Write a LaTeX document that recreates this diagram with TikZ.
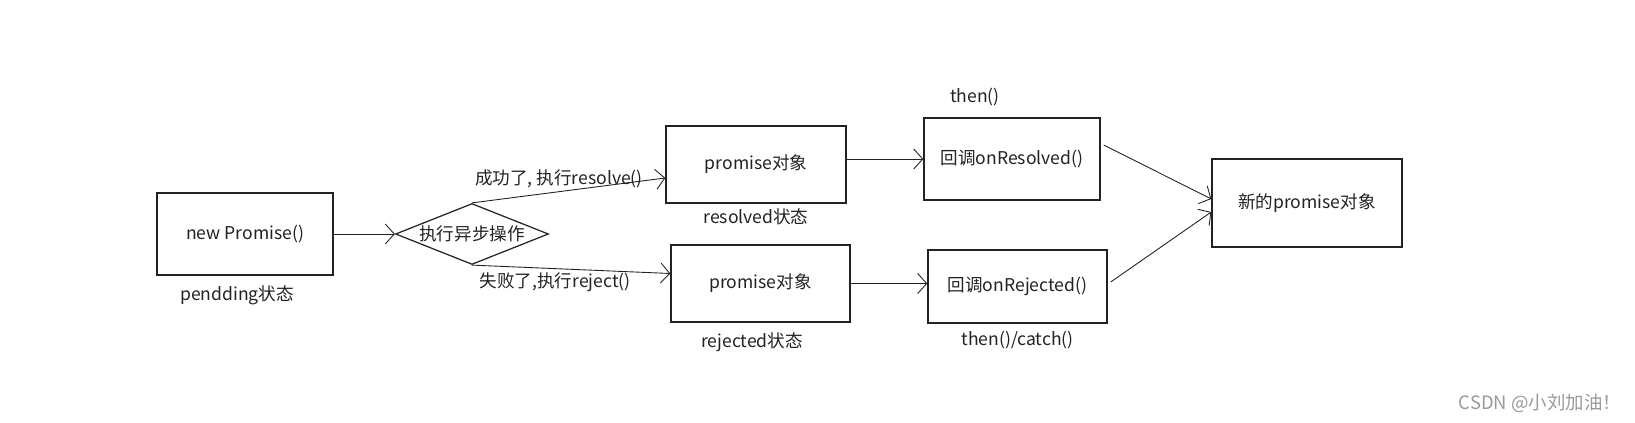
\documentclass[tikz,border=0pt]{standalone}
\usepackage{fontspec}
\setmainfont{Noto Sans CJK SC}
\usetikzlibrary{arrows.meta,positioning,shapes.geometric}
\definecolor{inkgray}{HTML}{222222}
\definecolor{markgray}{HTML}{9A9A9A}

\begin{document}
\begin{tikzpicture}[->, >={Straight Barb[length=1.8mm,width=4mm]}, on grid, color=inkgray, line width=0.5pt,
	every node/.style={text=inkgray, font=\fontsize{10}{12}\selectfont},
	box/.style={rectangle, draw=inkgray, line width=0.8pt, minimum width=3.52cm, minimum height=1.64cm},
	decision/.style={diamond, draw=inkgray, line width=0.7pt, aspect=2.5, inner sep=-2pt, minimum width=3.06cm, minimum height=1.22cm},
	tag/.style={inner sep=2pt}]

		\useasboundingbox (0,0) rectangle (32.7,-8.46);

		\node[box] (np) at (4.90,-4.68) {new Promise()};
		\node[decision] (exec) [right=4.54cm of np] {执行异步操作};
		\node[box, minimum width=3.6cm, minimum height=1.54cm] (p1) [above right=1.39cm and 5.68cm of exec] {promise对象};
		\node[box, minimum width=3.58cm, minimum height=1.54cm] (p2) [below right=0.99cm and 5.77cm of exec] {promise对象};
		\node[box] (onres) [above right=0.11cm and 5.12cm of p1] {回调onResolved()};
		\node[box, minimum width=3.58cm, minimum height=1.46cm] (onrej) [below right=0.06cm and 5.14cm of p2] {回调onRejected()};
		\node[box, minimum width=3.8cm, minimum height=1.76cm] (newp) [below right=0.88cm and 5.90cm of onres] {新的promise对象};

		% state labels
		\node (npstate) [below left=1.22cm and 0.16cm of np] {pendding状态};
		\node (p1state) [below=1.05cm of p1] {resolved状态};
		\node (p2state) [below left=1.17cm and 0.17cm of p2] {rejected状态};
		\node (thenres) [above left=1.24cm and 0.74cm of onres] {then()};
		\node (thenrej) [below=1.07cm of onrej] {then()/catch()};

		\path
		(np) edge (exec)
		(exec.north) edge node[tag, above, pos=0.45] {成功了, 执行resolve()} ([yshift=-0.27cm]p1.west)
		(exec.south) edge node[tag, below, pos=0.42] {失败了,执行reject()} ([yshift=0.2cm]p2.west)
		(p1.east |- onres.west) edge (onres.west)
		(p2.east) edge (p2.east -| onrej.west)
		([xshift=0.06cm, yshift=0.28cm]onres.east) edge ([yshift=0.08cm]newp.west)
		([xshift=0.06cm, yshift=0.09cm]onrej.east) edge ([yshift=-0.18cm]newp.west);

		\node[text=markgray, font=\fontsize{10.5}{12}\selectfont] (mark) at (30.8,-8.06) {CSDN @小刘加油！};

		\end{tikzpicture}
\end{document}
